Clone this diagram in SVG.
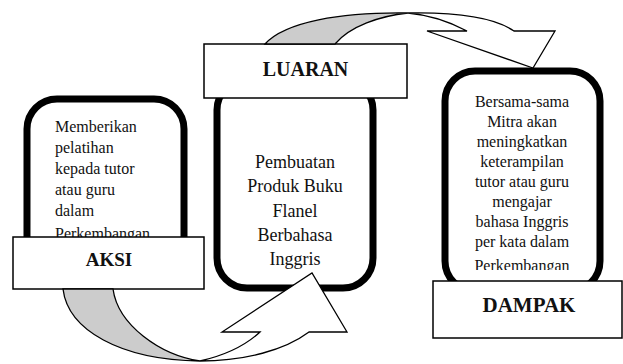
<svg xmlns="http://www.w3.org/2000/svg" width="623" height="364" viewBox="0 0 623 364">
<style>
.frame{fill:#fff;stroke:#000;stroke-width:7}
.label{fill:#fff;stroke:#000;stroke-width:1.5}
text{font-family:'Liberation Serif','Times New Roman','DejaVu Serif',serif}
.body{font-size:16px;fill:#111}
.big{font-size:18px;fill:#111}
.title{font-weight:bold;fill:#111;text-anchor:middle}
.gray{fill:#cccccc;stroke:#000;stroke-width:1.3}
.white{fill:#fff;stroke:#000;stroke-width:1.3;stroke-linejoin:miter}
</style>
<defs>
<clipPath id="clipD"><rect x="440" y="60" width="170" height="210"/></clipPath>
</defs>
<rect width="623" height="364" fill="#fff"/>
<g id="aksi">
<rect class="frame" x="27" y="99" width="157" height="180" rx="30"/>
<text class="body" x="55"><tspan x="55" y="132">Memberikan</tspan><tspan x="55" y="153">pelatihan</tspan><tspan x="55" y="174">kepada tutor</tspan><tspan x="55" y="195">atau guru</tspan><tspan x="55" y="216">dalam</tspan><tspan x="55" y="239">Perkembangan</tspan></text>
<rect class="label" x="13" y="237" width="191" height="52"/>
<text class="title" x="109" y="266" font-size="19">AKSI</text>
</g>
<g id="luaran">
<rect class="frame" x="217" y="80" width="156" height="208" rx="30"/>
<text class="big" text-anchor="middle"><tspan x="295" y="168">Pembuatan</tspan><tspan x="295" y="192">Produk Buku</tspan><tspan x="295" y="217">Flanel</tspan><tspan x="295" y="241">Berbahasa</tspan><tspan x="295" y="265">Inggris</tspan></text>
<rect class="label" x="204" y="44" width="203" height="54"/>
<text class="title" x="305.5" y="76" font-size="20">LUARAN</text>
</g>
<g id="dampak">
<rect class="frame" x="445" y="71" width="155" height="220" rx="30"/>
<text class="body" text-anchor="middle" clip-path="url(#clipD)"><tspan x="522" y="107">Bersama-sama</tspan><tspan x="522" y="127">Mitra  akan</tspan><tspan x="522" y="147">meningkatkan</tspan><tspan x="522" y="167">keterampilan</tspan><tspan x="522" y="187">tutor atau guru</tspan><tspan x="522" y="207">mengajar</tspan><tspan x="522" y="227">bahasa Inggris</tspan><tspan x="522" y="247">per kata dalam</tspan><tspan x="522" y="271">Perkembangan</tspan></text>
<rect class="label" x="433" y="281" width="189" height="57"/>
<text class="title" x="529" y="312" font-size="21">DAMPAK</text>
</g>
<g id="connectors">
<path class="gray" d="M63,289 C68,330 120,360 200,361 C160,355 118,325 113,289 Z"/>
<path class="white" d="M200,361 C245,361 285,350 309,332 L347,332 L312,273 L222,332 L260,332 C245,346 222,356 200,361 Z"/>
<path class="gray" d="M265,44 C285,22 340,12 408,13 C380,16 350,26 335,44 Z"/>
<path class="white" d="M408,13 C460,12 495,18 514,31 L555,31 L533,68 L427,31 L467,31 C450,22 430,15 408,13 Z"/>
</g>
</svg>
